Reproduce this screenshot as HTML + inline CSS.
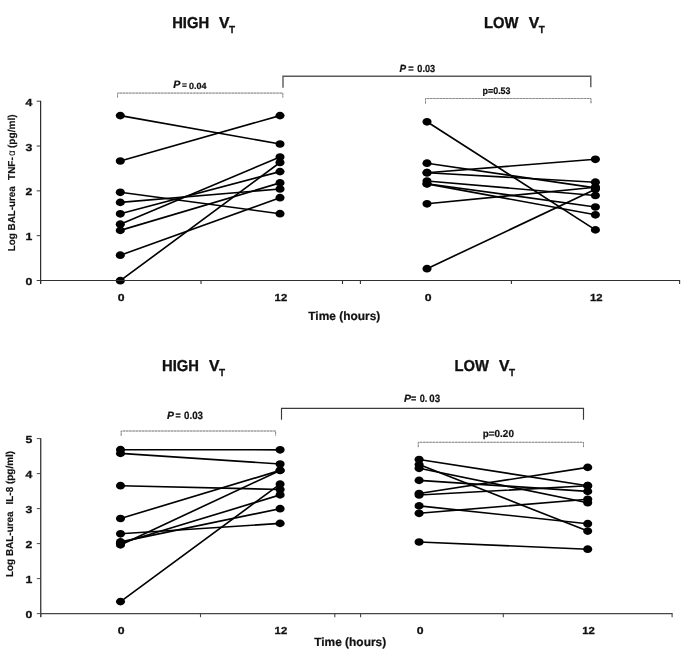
<!DOCTYPE html>
<html><head><meta charset="utf-8"><title>Figure</title>
<style>
html,body{margin:0;padding:0;background:#fff;}
body{width:685px;height:659px;overflow:hidden;font-family:"Liberation Sans",sans-serif;}
svg{display:block;will-change:transform;}
text{font-family:"Liberation Sans",sans-serif;fill:#111;text-rendering:geometricPrecision;}
.tk{font-weight:bold;font-size:10.2px;stroke:#111;stroke-width:0.3px;}
.ti{font-weight:bold;font-size:14.8px;white-space:pre;}
.ax{font-weight:bold;font-size:11.8px;}
.yl{font-weight:bold;font-size:10px;white-space:pre;}
.p1{font-weight:bold;font-size:8.5px;}
.ser{font-family:"Liberation Serif",serif;font-size:8.6px;}
.p2{font-weight:bold;font-size:9.6px;}
.p3{font-weight:bold;font-size:9.2px;}
</style></head><body>
<svg width="685" height="659" viewBox="0 0 685 659">
<rect width="685" height="659" fill="#fff"/>
<line x1="120.30" y1="115.60" x2="280.00" y2="144.00" stroke="#000" stroke-width="1.65" stroke-linecap="round"/>
<line x1="120.30" y1="161.00" x2="280.00" y2="115.60" stroke="#000" stroke-width="1.65" stroke-linecap="round"/>
<line x1="120.30" y1="192.30" x2="280.00" y2="213.70" stroke="#000" stroke-width="1.65" stroke-linecap="round"/>
<line x1="120.30" y1="202.40" x2="280.00" y2="189.00" stroke="#000" stroke-width="1.65" stroke-linecap="round"/>
<line x1="120.30" y1="213.80" x2="280.00" y2="171.60" stroke="#000" stroke-width="1.65" stroke-linecap="round"/>
<line x1="120.30" y1="224.20" x2="280.00" y2="157.00" stroke="#000" stroke-width="1.65" stroke-linecap="round"/>
<line x1="120.30" y1="230.40" x2="280.00" y2="182.90" stroke="#000" stroke-width="1.65" stroke-linecap="round"/>
<line x1="120.30" y1="255.20" x2="280.00" y2="197.70" stroke="#000" stroke-width="1.65" stroke-linecap="round"/>
<line x1="120.30" y1="280.70" x2="280.00" y2="162.50" stroke="#000" stroke-width="1.65" stroke-linecap="round"/>
<ellipse cx="120.30" cy="115.60" rx="4.55" ry="3.85" fill="#000"/>
<ellipse cx="280.00" cy="144.00" rx="4.55" ry="3.85" fill="#000"/>
<ellipse cx="120.30" cy="161.00" rx="4.55" ry="3.85" fill="#000"/>
<ellipse cx="280.00" cy="115.60" rx="4.55" ry="3.85" fill="#000"/>
<ellipse cx="120.30" cy="192.30" rx="4.55" ry="3.85" fill="#000"/>
<ellipse cx="280.00" cy="213.70" rx="4.55" ry="3.85" fill="#000"/>
<ellipse cx="120.30" cy="202.40" rx="4.55" ry="3.85" fill="#000"/>
<ellipse cx="280.00" cy="189.00" rx="4.55" ry="3.85" fill="#000"/>
<ellipse cx="120.30" cy="213.80" rx="4.55" ry="3.85" fill="#000"/>
<ellipse cx="280.00" cy="171.60" rx="4.55" ry="3.85" fill="#000"/>
<ellipse cx="120.30" cy="224.20" rx="4.55" ry="3.85" fill="#000"/>
<ellipse cx="280.00" cy="157.00" rx="4.55" ry="3.85" fill="#000"/>
<ellipse cx="120.30" cy="230.40" rx="4.55" ry="3.85" fill="#000"/>
<ellipse cx="280.00" cy="182.90" rx="4.55" ry="3.85" fill="#000"/>
<ellipse cx="120.30" cy="255.20" rx="4.55" ry="3.85" fill="#000"/>
<ellipse cx="280.00" cy="197.70" rx="4.55" ry="3.85" fill="#000"/>
<ellipse cx="120.30" cy="280.70" rx="4.55" ry="3.85" fill="#000"/>
<ellipse cx="280.00" cy="162.50" rx="4.55" ry="3.85" fill="#000"/>
<line x1="427.00" y1="121.80" x2="595.40" y2="229.90" stroke="#000" stroke-width="1.65" stroke-linecap="round"/>
<line x1="427.00" y1="163.20" x2="595.40" y2="187.90" stroke="#000" stroke-width="1.65" stroke-linecap="round"/>
<line x1="427.00" y1="172.70" x2="595.40" y2="159.30" stroke="#000" stroke-width="1.65" stroke-linecap="round"/>
<line x1="427.00" y1="172.70" x2="595.40" y2="182.20" stroke="#000" stroke-width="1.65" stroke-linecap="round"/>
<line x1="427.00" y1="181.00" x2="595.40" y2="195.50" stroke="#000" stroke-width="1.65" stroke-linecap="round"/>
<line x1="427.00" y1="183.70" x2="595.40" y2="207.00" stroke="#000" stroke-width="1.65" stroke-linecap="round"/>
<line x1="427.00" y1="183.90" x2="595.40" y2="214.80" stroke="#000" stroke-width="1.65" stroke-linecap="round"/>
<line x1="427.00" y1="203.80" x2="595.40" y2="187.30" stroke="#000" stroke-width="1.65" stroke-linecap="round"/>
<line x1="427.00" y1="268.70" x2="595.40" y2="189.30" stroke="#000" stroke-width="1.65" stroke-linecap="round"/>
<ellipse cx="427.00" cy="121.80" rx="4.55" ry="3.85" fill="#000"/>
<ellipse cx="595.40" cy="229.90" rx="4.55" ry="3.85" fill="#000"/>
<ellipse cx="427.00" cy="163.20" rx="4.55" ry="3.85" fill="#000"/>
<ellipse cx="595.40" cy="187.90" rx="4.55" ry="3.85" fill="#000"/>
<ellipse cx="427.00" cy="172.70" rx="4.55" ry="3.85" fill="#000"/>
<ellipse cx="595.40" cy="159.30" rx="4.55" ry="3.85" fill="#000"/>
<ellipse cx="427.00" cy="172.70" rx="4.55" ry="3.85" fill="#000"/>
<ellipse cx="595.40" cy="182.20" rx="4.55" ry="3.85" fill="#000"/>
<ellipse cx="427.00" cy="181.00" rx="4.55" ry="3.85" fill="#000"/>
<ellipse cx="595.40" cy="195.50" rx="4.55" ry="3.85" fill="#000"/>
<ellipse cx="427.00" cy="183.70" rx="4.55" ry="3.85" fill="#000"/>
<ellipse cx="595.40" cy="207.00" rx="4.55" ry="3.85" fill="#000"/>
<ellipse cx="427.00" cy="183.90" rx="4.55" ry="3.85" fill="#000"/>
<ellipse cx="595.40" cy="214.80" rx="4.55" ry="3.85" fill="#000"/>
<ellipse cx="427.00" cy="203.80" rx="4.55" ry="3.85" fill="#000"/>
<ellipse cx="595.40" cy="187.30" rx="4.55" ry="3.85" fill="#000"/>
<ellipse cx="427.00" cy="268.70" rx="4.55" ry="3.85" fill="#000"/>
<ellipse cx="595.40" cy="189.30" rx="4.55" ry="3.85" fill="#000"/>
<line x1="120.50" y1="449.70" x2="280.10" y2="449.80" stroke="#000" stroke-width="1.65" stroke-linecap="round"/>
<line x1="120.50" y1="453.40" x2="280.10" y2="464.00" stroke="#000" stroke-width="1.65" stroke-linecap="round"/>
<line x1="120.50" y1="485.70" x2="280.10" y2="489.50" stroke="#000" stroke-width="1.65" stroke-linecap="round"/>
<line x1="120.50" y1="518.50" x2="280.10" y2="470.40" stroke="#000" stroke-width="1.65" stroke-linecap="round"/>
<line x1="120.50" y1="533.80" x2="280.10" y2="523.40" stroke="#000" stroke-width="1.65" stroke-linecap="round"/>
<line x1="120.50" y1="544.90" x2="280.10" y2="470.40" stroke="#000" stroke-width="1.65" stroke-linecap="round"/>
<line x1="120.50" y1="543.30" x2="280.10" y2="494.90" stroke="#000" stroke-width="1.65" stroke-linecap="round"/>
<line x1="120.50" y1="541.90" x2="280.10" y2="508.70" stroke="#000" stroke-width="1.65" stroke-linecap="round"/>
<line x1="120.50" y1="601.60" x2="280.10" y2="484.10" stroke="#000" stroke-width="1.65" stroke-linecap="round"/>
<ellipse cx="120.50" cy="449.70" rx="4.55" ry="3.85" fill="#000"/>
<ellipse cx="280.10" cy="449.80" rx="4.55" ry="3.85" fill="#000"/>
<ellipse cx="120.50" cy="453.40" rx="4.55" ry="3.85" fill="#000"/>
<ellipse cx="280.10" cy="464.00" rx="4.55" ry="3.85" fill="#000"/>
<ellipse cx="120.50" cy="485.70" rx="4.55" ry="3.85" fill="#000"/>
<ellipse cx="280.10" cy="489.50" rx="4.55" ry="3.85" fill="#000"/>
<ellipse cx="120.50" cy="518.50" rx="4.55" ry="3.85" fill="#000"/>
<ellipse cx="280.10" cy="470.40" rx="4.55" ry="3.85" fill="#000"/>
<ellipse cx="120.50" cy="533.80" rx="4.55" ry="3.85" fill="#000"/>
<ellipse cx="280.10" cy="523.40" rx="4.55" ry="3.85" fill="#000"/>
<ellipse cx="120.50" cy="544.90" rx="4.55" ry="3.85" fill="#000"/>
<ellipse cx="280.10" cy="470.40" rx="4.55" ry="3.85" fill="#000"/>
<ellipse cx="120.50" cy="543.30" rx="4.55" ry="3.85" fill="#000"/>
<ellipse cx="280.10" cy="494.90" rx="4.55" ry="3.85" fill="#000"/>
<ellipse cx="120.50" cy="541.90" rx="4.55" ry="3.85" fill="#000"/>
<ellipse cx="280.10" cy="508.70" rx="4.55" ry="3.85" fill="#000"/>
<ellipse cx="120.50" cy="601.60" rx="4.55" ry="3.85" fill="#000"/>
<ellipse cx="280.10" cy="484.10" rx="4.55" ry="3.85" fill="#000"/>
<line x1="419.10" y1="459.50" x2="587.70" y2="485.70" stroke="#000" stroke-width="1.65" stroke-linecap="round"/>
<line x1="419.10" y1="464.60" x2="587.70" y2="531.10" stroke="#000" stroke-width="1.65" stroke-linecap="round"/>
<line x1="419.10" y1="468.30" x2="587.70" y2="502.70" stroke="#000" stroke-width="1.65" stroke-linecap="round"/>
<line x1="419.10" y1="480.40" x2="587.70" y2="491.40" stroke="#000" stroke-width="1.65" stroke-linecap="round"/>
<line x1="419.10" y1="493.50" x2="587.70" y2="467.40" stroke="#000" stroke-width="1.65" stroke-linecap="round"/>
<line x1="419.10" y1="495.00" x2="587.70" y2="485.70" stroke="#000" stroke-width="1.65" stroke-linecap="round"/>
<line x1="419.10" y1="505.90" x2="587.70" y2="523.70" stroke="#000" stroke-width="1.65" stroke-linecap="round"/>
<line x1="419.10" y1="513.30" x2="587.70" y2="499.30" stroke="#000" stroke-width="1.65" stroke-linecap="round"/>
<line x1="419.10" y1="542.00" x2="587.70" y2="549.20" stroke="#000" stroke-width="1.65" stroke-linecap="round"/>
<ellipse cx="419.10" cy="459.50" rx="4.55" ry="3.85" fill="#000"/>
<ellipse cx="587.70" cy="485.70" rx="4.55" ry="3.85" fill="#000"/>
<ellipse cx="419.10" cy="464.60" rx="4.55" ry="3.85" fill="#000"/>
<ellipse cx="587.70" cy="531.10" rx="4.55" ry="3.85" fill="#000"/>
<ellipse cx="419.10" cy="468.30" rx="4.55" ry="3.85" fill="#000"/>
<ellipse cx="587.70" cy="502.70" rx="4.55" ry="3.85" fill="#000"/>
<ellipse cx="419.10" cy="480.40" rx="4.55" ry="3.85" fill="#000"/>
<ellipse cx="587.70" cy="491.40" rx="4.55" ry="3.85" fill="#000"/>
<ellipse cx="419.10" cy="493.50" rx="4.55" ry="3.85" fill="#000"/>
<ellipse cx="587.70" cy="467.40" rx="4.55" ry="3.85" fill="#000"/>
<ellipse cx="419.10" cy="495.00" rx="4.55" ry="3.85" fill="#000"/>
<ellipse cx="587.70" cy="485.70" rx="4.55" ry="3.85" fill="#000"/>
<ellipse cx="419.10" cy="505.90" rx="4.55" ry="3.85" fill="#000"/>
<ellipse cx="587.70" cy="523.70" rx="4.55" ry="3.85" fill="#000"/>
<ellipse cx="419.10" cy="513.30" rx="4.55" ry="3.85" fill="#000"/>
<ellipse cx="587.70" cy="499.30" rx="4.55" ry="3.85" fill="#000"/>
<ellipse cx="419.10" cy="542.00" rx="4.55" ry="3.85" fill="#000"/>
<ellipse cx="587.70" cy="549.20" rx="4.55" ry="3.85" fill="#000"/>
<line x1="40.60" y1="100.80" x2="40.60" y2="283.90" stroke="#303030" stroke-width="1.25" />
<line x1="36.70" y1="280.50" x2="40.60" y2="280.50" stroke="#303030" stroke-width="0.95" />
<text x="32.2" y="285.0" class="tk" text-anchor="end" textLength="6.8" lengthAdjust="spacingAndGlyphs">0</text>
<line x1="36.70" y1="235.68" x2="40.60" y2="235.68" stroke="#303030" stroke-width="0.95" />
<text x="32.2" y="240.2" class="tk" text-anchor="end" textLength="6.8" lengthAdjust="spacingAndGlyphs">1</text>
<line x1="36.70" y1="190.85" x2="40.60" y2="190.85" stroke="#303030" stroke-width="0.95" />
<text x="32.2" y="195.3" class="tk" text-anchor="end" textLength="6.8" lengthAdjust="spacingAndGlyphs">2</text>
<line x1="36.70" y1="146.02" x2="40.60" y2="146.02" stroke="#303030" stroke-width="0.95" />
<text x="32.2" y="150.5" class="tk" text-anchor="end" textLength="6.8" lengthAdjust="spacingAndGlyphs">3</text>
<line x1="36.70" y1="101.20" x2="40.60" y2="101.20" stroke="#303030" stroke-width="0.95" />
<text x="32.2" y="105.7" class="tk" text-anchor="end" textLength="6.8" lengthAdjust="spacingAndGlyphs">4</text>
<line x1="40.00" y1="280.50" x2="680.10" y2="280.50" stroke="#303030" stroke-width="1.1" />
<line x1="40.60" y1="280.50" x2="40.60" y2="284.10" stroke="#303030" stroke-width="1.1" />
<line x1="201.00" y1="280.50" x2="201.00" y2="284.10" stroke="#303030" stroke-width="1.1" />
<line x1="360.40" y1="280.50" x2="360.40" y2="284.10" stroke="#303030" stroke-width="1.1" />
<line x1="342.50" y1="280.50" x2="342.50" y2="284.10" stroke="#303030" stroke-width="1.1" />
<line x1="511.40" y1="280.50" x2="511.40" y2="284.10" stroke="#303030" stroke-width="1.1" />
<line x1="679.60" y1="280.50" x2="679.60" y2="284.10" stroke="#303030" stroke-width="1.1" />
<text x="121.1" y="300.9" class="tk" text-anchor="middle" textLength="6.8" lengthAdjust="spacingAndGlyphs">0</text>
<text x="280.9" y="300.9" class="tk" text-anchor="middle" textLength="12.6" lengthAdjust="spacingAndGlyphs">12</text>
<text x="428.1" y="300.9" class="tk" text-anchor="middle" textLength="6.8" lengthAdjust="spacingAndGlyphs">0</text>
<text x="596.3" y="300.9" class="tk" text-anchor="middle" textLength="12.6" lengthAdjust="spacingAndGlyphs">12</text>
<line x1="40.70" y1="438.20" x2="40.70" y2="617.00" stroke="#464646" stroke-width="1.45" />
<line x1="36.80" y1="613.60" x2="40.70" y2="613.60" stroke="#464646" stroke-width="0.95" />
<text x="32.3" y="618.1" class="tk" text-anchor="end" textLength="6.8" lengthAdjust="spacingAndGlyphs">0</text>
<line x1="36.80" y1="578.60" x2="40.70" y2="578.60" stroke="#464646" stroke-width="0.95" />
<text x="32.3" y="583.1" class="tk" text-anchor="end" textLength="6.8" lengthAdjust="spacingAndGlyphs">1</text>
<line x1="36.80" y1="543.60" x2="40.70" y2="543.60" stroke="#464646" stroke-width="0.95" />
<text x="32.3" y="548.1" class="tk" text-anchor="end" textLength="6.8" lengthAdjust="spacingAndGlyphs">2</text>
<line x1="36.80" y1="508.60" x2="40.70" y2="508.60" stroke="#464646" stroke-width="0.95" />
<text x="32.3" y="513.1" class="tk" text-anchor="end" textLength="6.8" lengthAdjust="spacingAndGlyphs">3</text>
<line x1="36.80" y1="473.60" x2="40.70" y2="473.60" stroke="#464646" stroke-width="0.95" />
<text x="32.3" y="478.1" class="tk" text-anchor="end" textLength="6.8" lengthAdjust="spacingAndGlyphs">4</text>
<line x1="36.80" y1="438.60" x2="40.70" y2="438.60" stroke="#464646" stroke-width="0.95" />
<text x="32.3" y="443.1" class="tk" text-anchor="end" textLength="6.8" lengthAdjust="spacingAndGlyphs">5</text>
<line x1="40.10" y1="613.60" x2="672.60" y2="613.60" stroke="#464646" stroke-width="1.1" />
<line x1="40.70" y1="613.60" x2="40.70" y2="617.20" stroke="#464646" stroke-width="1.1" />
<line x1="200.50" y1="613.60" x2="200.50" y2="617.20" stroke="#464646" stroke-width="1.1" />
<line x1="360.60" y1="613.60" x2="360.60" y2="617.20" stroke="#464646" stroke-width="1.1" />
<line x1="334.80" y1="613.60" x2="334.80" y2="617.20" stroke="#464646" stroke-width="1.1" />
<line x1="503.30" y1="613.60" x2="503.30" y2="617.20" stroke="#464646" stroke-width="1.1" />
<line x1="672.10" y1="613.60" x2="672.10" y2="617.20" stroke="#464646" stroke-width="1.1" />
<text x="121.1" y="634.4" class="tk" text-anchor="middle" textLength="6.8" lengthAdjust="spacingAndGlyphs">0</text>
<text x="280.9" y="634.4" class="tk" text-anchor="middle" textLength="12.6" lengthAdjust="spacingAndGlyphs">12</text>
<text x="420.2" y="634.4" class="tk" text-anchor="middle" textLength="6.8" lengthAdjust="spacingAndGlyphs">0</text>
<text x="588.6" y="634.4" class="tk" text-anchor="middle" textLength="12.6" lengthAdjust="spacingAndGlyphs">12</text>
<path d="M117.5 97.5 V93.1 H282.8 V97.5" fill="none" stroke="#c4c4c4" stroke-width="1"/>
<path d="M117.5 97.5 V93.1 H282.8 V97.5" fill="none" stroke="#8a8a8a" stroke-width="1" stroke-dasharray="2.3 0.9"/>
<path d="M425.5 103.6 V98.5 H591 V103.6" fill="none" stroke="#c4c4c4" stroke-width="1"/>
<path d="M425.5 103.6 V98.5 H591 V103.6" fill="none" stroke="#8a8a8a" stroke-width="1" stroke-dasharray="2.3 0.9"/>
<path d="M283.0 87.8 V76.2 H590.8 V87.3" fill="none" stroke="#5a5a5a" stroke-width="1.4"/>
<path d="M121.2 435.7 V431.0 H275.6 V435.7" fill="none" stroke="#c4c4c4" stroke-width="1"/>
<path d="M121.2 435.7 V431.0 H275.6 V435.7" fill="none" stroke="#8a8a8a" stroke-width="1" stroke-dasharray="2.3 0.9"/>
<path d="M418.3 447.1 V442.3 H583.5 V447.1" fill="none" stroke="#c4c4c4" stroke-width="1"/>
<path d="M418.3 447.1 V442.3 H583.5 V447.1" fill="none" stroke="#8a8a8a" stroke-width="1" stroke-dasharray="2.3 0.9"/>
<path d="M281.5 419.75 V408.35 H583.5 V419.65000000000003" fill="none" stroke="#3a3a3a" stroke-width="1.15"/>
<text x="172.2" y="28.1" font-size="15.9" font-weight="bold" font-style="normal" font-family="Liberation Sans" text-anchor="start" textLength="36.9" lengthAdjust="spacingAndGlyphs" stroke="#111" stroke-width="0.35">HIGH</text>
<text x="219.0" y="28.1" font-size="15.9" font-weight="bold" font-style="normal" font-family="Liberation Sans" text-anchor="start" textLength="10.5" lengthAdjust="spacingAndGlyphs" stroke="#111" stroke-width="0.35">V</text>
<text x="229.1" y="33.1" font-size="10.2" font-weight="bold" font-style="normal" font-family="Liberation Sans" text-anchor="start" textLength="6.1" lengthAdjust="spacingAndGlyphs" stroke="#111" stroke-width="0.25">T</text>
<text x="483.9" y="28.1" font-size="15.9" font-weight="bold" font-style="normal" font-family="Liberation Sans" text-anchor="start" textLength="34.5" lengthAdjust="spacingAndGlyphs" stroke="#111" stroke-width="0.35">LOW</text>
<text x="528.7" y="28.1" font-size="15.9" font-weight="bold" font-style="normal" font-family="Liberation Sans" text-anchor="start" textLength="10.5" lengthAdjust="spacingAndGlyphs" stroke="#111" stroke-width="0.35">V</text>
<text x="538.8000000000001" y="33.1" font-size="10.2" font-weight="bold" font-style="normal" font-family="Liberation Sans" text-anchor="start" textLength="6.1" lengthAdjust="spacingAndGlyphs" stroke="#111" stroke-width="0.25">T</text>
<text x="162.0" y="371.3" font-size="15.9" font-weight="bold" font-style="normal" font-family="Liberation Sans" text-anchor="start" textLength="36.9" lengthAdjust="spacingAndGlyphs" stroke="#111" stroke-width="0.35">HIGH</text>
<text x="209.0" y="371.3" font-size="15.9" font-weight="bold" font-style="normal" font-family="Liberation Sans" text-anchor="start" textLength="10.5" lengthAdjust="spacingAndGlyphs" stroke="#111" stroke-width="0.35">V</text>
<text x="219.1" y="376.3" font-size="10.2" font-weight="bold" font-style="normal" font-family="Liberation Sans" text-anchor="start" textLength="6.1" lengthAdjust="spacingAndGlyphs" stroke="#111" stroke-width="0.25">T</text>
<text x="454.6" y="371.3" font-size="15.9" font-weight="bold" font-style="normal" font-family="Liberation Sans" text-anchor="start" textLength="34.4" lengthAdjust="spacingAndGlyphs" stroke="#111" stroke-width="0.35">LOW</text>
<text x="499.0" y="371.3" font-size="15.9" font-weight="bold" font-style="normal" font-family="Liberation Sans" text-anchor="start" textLength="10.5" lengthAdjust="spacingAndGlyphs" stroke="#111" stroke-width="0.35">V</text>
<text x="509.1" y="376.3" font-size="10.2" font-weight="bold" font-style="normal" font-family="Liberation Sans" text-anchor="start" textLength="6.1" lengthAdjust="spacingAndGlyphs" stroke="#111" stroke-width="0.25">T</text>
<text x="308.3" y="320.3" font-size="12.0" font-weight="bold" font-style="normal" font-family="Liberation Sans" text-anchor="start" textLength="72.0" lengthAdjust="spacingAndGlyphs" stroke="#111" stroke-width="0.22">Time (hours)</text>
<text x="314.2" y="646.3" font-size="12.0" font-weight="bold" font-style="normal" font-family="Liberation Sans" text-anchor="start" textLength="72.0" lengthAdjust="spacingAndGlyphs" stroke="#111" stroke-width="0.22">Time (hours)</text>
<text transform="translate(15.2,251.2) rotate(-90)" font-size="10.1" font-weight="bold" textLength="65.0" lengthAdjust="spacingAndGlyphs" stroke="#111" stroke-width="0.15">Log BAL-urea</text>
<text transform="translate(15.2,179.9) rotate(-90)" font-size="10.1" font-weight="bold" textLength="22.6" lengthAdjust="spacingAndGlyphs" stroke="#111" stroke-width="0.15">TNF-</text>
<text transform="translate(15.2,156.1) rotate(-90)" font-size="10.6" font-weight="normal" textLength="5.8" lengthAdjust="spacingAndGlyphs" >α</text>
<text transform="translate(15.2,148.0) rotate(-90)" font-size="10.1" font-weight="bold" textLength="33.6" lengthAdjust="spacingAndGlyphs" stroke="#111" stroke-width="0.15">(pg/ml)</text>
<text transform="translate(13.2,577.0) rotate(-90)" font-size="10.1" font-weight="bold" textLength="65.6" lengthAdjust="spacingAndGlyphs" stroke="#111" stroke-width="0.15">Log BAL-urea</text>
<text transform="translate(13.2,504.5) rotate(-90)" font-size="10.1" font-weight="bold" textLength="53.6" lengthAdjust="spacingAndGlyphs" stroke="#111" stroke-width="0.15">IL-8 (pg/ml)</text>
<text x="173.2" y="87.7" font-size="10.7" font-weight="bold" font-style="italic" font-family="Liberation Sans" text-anchor="start" textLength="7.2" lengthAdjust="spacingAndGlyphs" stroke="#111" stroke-width="0.22">P</text>
<text x="182.0" y="88.3" font-size="8.9" font-weight="bold" font-style="normal" font-family="Liberation Sans" text-anchor="start" textLength="4.9" lengthAdjust="spacingAndGlyphs" stroke="#111" stroke-width="0.22">=</text>
<text x="189.1" y="88.5" font-size="8.9" font-weight="bold" font-style="normal" font-family="Liberation Sans" text-anchor="start" textLength="17.4" lengthAdjust="spacingAndGlyphs" stroke="#111" stroke-width="0.22">0.04</text>
<text x="399.6" y="72.3" font-size="10.4" font-weight="bold" font-style="italic" font-family="Liberation Sans" text-anchor="start" textLength="6.6" lengthAdjust="spacingAndGlyphs" stroke="#111" stroke-width="0.22">P</text>
<text x="408.3" y="72.3" font-size="10.4" font-weight="bold" font-style="normal" font-family="Liberation Sans" text-anchor="start" textLength="5.4" lengthAdjust="spacingAndGlyphs" stroke="#111" stroke-width="0.22">=</text>
<text x="417.3" y="72.3" font-size="10.4" font-weight="bold" font-style="normal" font-family="Liberation Sans" text-anchor="start" textLength="17.8" lengthAdjust="spacingAndGlyphs" stroke="#111" stroke-width="0.22">0.03</text>
<text x="482.6" y="94.0" font-size="9.6" font-weight="bold" font-style="normal" font-family="Liberation Sans" text-anchor="start" textLength="27.9" lengthAdjust="spacingAndGlyphs" stroke="#111" stroke-width="0.22">p=0.53</text>
<text x="166.9" y="419.2" font-size="10.6" font-weight="bold" font-style="italic" font-family="Liberation Sans" text-anchor="start" textLength="7.0" lengthAdjust="spacingAndGlyphs" stroke="#111" stroke-width="0.22">P</text>
<text x="175.4" y="419.2" font-size="10.6" font-weight="bold" font-style="normal" font-family="Liberation Sans" text-anchor="start" textLength="5.2" lengthAdjust="spacingAndGlyphs" stroke="#111" stroke-width="0.22">=</text>
<text x="184.1" y="419.2" font-size="10.6" font-weight="bold" font-style="normal" font-family="Liberation Sans" text-anchor="start" textLength="18.9" lengthAdjust="spacingAndGlyphs" stroke="#111" stroke-width="0.22">0.03</text>
<text x="403.9" y="401.9" font-size="10.6" font-weight="bold" font-style="italic" font-family="Liberation Sans" text-anchor="start" textLength="7.0" lengthAdjust="spacingAndGlyphs" stroke="#111" stroke-width="0.22">P</text>
<text x="410.9" y="401.9" font-size="10.6" font-weight="bold" font-style="normal" font-family="Liberation Sans" text-anchor="start" textLength="5.2" lengthAdjust="spacingAndGlyphs" stroke="#111" stroke-width="0.22">=</text>
<text x="419.8" y="401.9" font-size="10.6" font-weight="bold" font-style="normal" font-family="Liberation Sans" text-anchor="start" textLength="7.6" lengthAdjust="spacingAndGlyphs" stroke="#111" stroke-width="0.22">0.</text>
<text x="429.3" y="401.9" font-size="10.6" font-weight="bold" font-style="normal" font-family="Liberation Sans" text-anchor="start" textLength="10.8" lengthAdjust="spacingAndGlyphs" stroke="#111" stroke-width="0.22">03</text>
<text x="482.8" y="436.6" font-size="10.2" font-weight="bold" font-style="normal" font-family="Liberation Sans" text-anchor="start" textLength="31.1" lengthAdjust="spacingAndGlyphs" stroke="#111" stroke-width="0.22">p=0.20</text>
</svg>
</body></html>
